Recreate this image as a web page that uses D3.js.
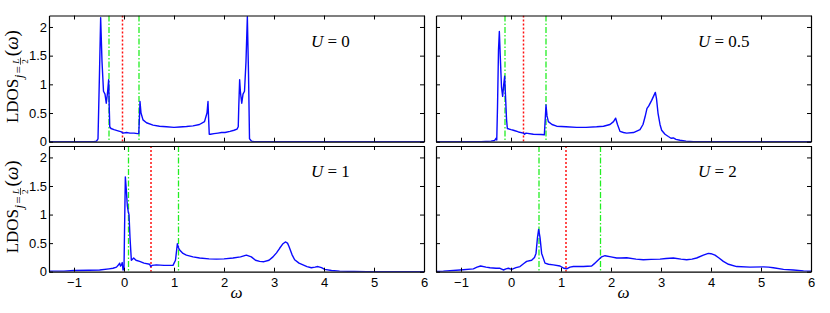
<!DOCTYPE html>
<html>
<head>
<meta charset="utf-8">
<script src="https://cdn.jsdelivr.net/npm/d3@7"></script>
<style>
    body { margin: 0; background: #fff; }
    svg { display: block; }
</style>
</head>
<body>
<div id="chart"></div>
<script>
// [omega, LDOS] pairs, one array per U
const ldosU0 = [
    [-1.5, 0], [-0.6, 0], [-0.55, 0.01], [-0.52, 0.05], [-0.49, 1.2], [-0.467, 2.16], [-0.44, 1.4],
    [-0.41, 0.88], [-0.38, 0.83], [-0.355, 0.67], [-0.33, 0.85], [-0.307, 1.08], [-0.295, 0.6],
    [-0.285, 0.26], [-0.26, 0.23], [-0.2, 0.21], [-0.12, 0.19], [-0.05, 0.17], [-0.02, 0.15],
    [0.05, 0.16], [0.12, 0.15], [0.2, 0.15], [0.27, 0.14], [0.295, 0.14], [0.31, 0.45], [0.32, 0.7],
    [0.34, 0.5], [0.38, 0.38], [0.45, 0.33], [0.58, 0.29], [0.71, 0.27], [0.85, 0.26], [1.0, 0.25],
    [1.11, 0.257], [1.25, 0.265], [1.38, 0.275], [1.51, 0.3], [1.61, 0.35], [1.66, 0.5], [1.68, 0.7],
    [1.69, 0.45], [1.705, 0.13], [1.73, 0.13], [1.8, 0.14], [1.88, 0.15], [1.95, 0.16], [2.02, 0.16],
    [2.12, 0.18], [2.2, 0.2], [2.26, 0.22], [2.285, 0.26], [2.295, 0.6], [2.313, 1.08], [2.33, 0.85],
    [2.355, 0.67], [2.38, 0.83], [2.41, 0.88], [2.44, 1.4], [2.467, 2.18], [2.49, 1.2], [2.51, 0.05],
    [2.55, 0.01], [2.6, 0], [6, 0],
]
const ldosU05 = [
    [-1.5, 0], [-0.6, 0], [-0.4, 0.01], [-0.33, 0.02], [-0.3, 0.06], [-0.285, 0.03], [-0.27, 0.6],
    [-0.25, 1.6], [-0.233, 1.92], [-0.215, 1.5], [-0.19, 0.95], [-0.167, 0.79], [-0.145, 1.0],
    [-0.127, 1.14], [-0.11, 0.8], [-0.09, 0.4], [-0.073, 0.23], [0.0, 0.21], [0.047, 0.2],
    [0.15, 0.17], [0.247, 0.15], [0.27, 0.13], [0.3, 0.15], [0.447, 0.13], [0.6, 0.125],
    [0.667, 0.12], [0.685, 0.4], [0.7, 0.64], [0.72, 0.45], [0.747, 0.35], [0.82, 0.3], [0.913, 0.27],
    [1.1, 0.26], [1.313, 0.25], [1.5, 0.25], [1.713, 0.26], [1.85, 0.27], [1.98, 0.3], [2.05, 0.35],
    [2.093, 0.41], [2.13, 0.3], [2.18, 0.18], [2.25, 0.16], [2.313, 0.15], [2.45, 0.16], [2.58, 0.21],
    [2.64, 0.3], [2.68, 0.43], [2.72, 0.58], [2.753, 0.62], [2.813, 0.72], [2.887, 0.86], [2.91, 0.75],
    [2.94, 0.5], [2.98, 0.3], [3.013, 0.2], [3.08, 0.13], [3.147, 0.09], [3.2, 0.06], [3.247, 0.065],
    [3.3, 0.04], [3.38, 0.025], [3.5, 0.01], [3.65, 0], [6, 0],
]
const ldosU1 = [
    [-1.5, 0.01], [-1.2, 0.01], [-1.0, 0.02], [-0.7, 0.025], [-0.487, 0.03], [-0.3, 0.05],
    [-0.22, 0.06], [-0.15, 0.08], [-0.1, 0.13], [-0.087, 0.15], [-0.07, 0.1], [-0.05, 0.12],
    [-0.035, 0.16], [-0.02, 0.03], [0.0, 0.05], [0.012, 0.8], [0.027, 1.66], [0.045, 1.45],
    [0.067, 1.15], [0.085, 1.05], [0.1, 1.0], [0.12, 0.6], [0.147, 0.2], [0.17, 0.22], [0.193, 0.24],
    [0.24, 0.2], [0.313, 0.18], [0.4, 0.15], [0.513, 0.13], [0.533, 0.09], [0.56, 0.11], [0.647, 0.12],
    [0.8, 0.11], [0.98, 0.11], [1.03, 0.2], [1.067, 0.49], [1.09, 0.42], [1.113, 0.38], [1.18, 0.32],
    [1.247, 0.29], [1.38, 0.26], [1.513, 0.24], [1.7, 0.225], [1.847, 0.22], [2.0, 0.225], [2.18, 0.24],
    [2.33, 0.26], [2.447, 0.29], [2.547, 0.26], [2.63, 0.2], [2.713, 0.18], [2.8, 0.175], [2.9, 0.2],
    [2.98, 0.26], [3.05, 0.33], [3.113, 0.41], [3.18, 0.49], [3.227, 0.52], [3.27, 0.5], [3.3, 0.44],
    [3.36, 0.3], [3.413, 0.21], [3.5, 0.15], [3.58, 0.12], [3.66, 0.09], [3.747, 0.07], [3.82, 0.08],
    [3.88, 0.09], [3.95, 0.07], [4.013, 0.04], [4.15, 0.02], [4.313, 0.01], [4.6, 0.005], [4.85, 0],
    [6, 0],
]
const ldosU2 = [
    [-1.5, 0.005], [-1.353, 0.01], [-1.02, 0.03], [-0.753, 0.05], [-0.68, 0.08], [-0.607, 0.1],
    [-0.5, 0.08], [-0.42, 0.07], [-0.3, 0.06], [-0.22, 0.06], [-0.153, 0.03], [-0.1, 0.05],
    [-0.053, 0.06], [0.013, 0.04], [0.1, 0.07], [0.18, 0.09], [0.25, 0.14], [0.313, 0.18],
    [0.413, 0.2], [0.47, 0.25], [0.5, 0.32], [0.53, 0.6], [0.553, 0.74], [0.58, 0.6], [0.613, 0.32],
    [0.68, 0.15], [0.75, 0.13], [0.847, 0.12], [0.98, 0.1], [1.06, 0.06], [1.113, 0.05], [1.18, 0.08],
    [1.247, 0.09], [1.35, 0.09], [1.447, 0.09], [1.613, 0.1], [1.68, 0.15], [1.713, 0.18],
    [1.813, 0.26], [1.88, 0.28], [2.0, 0.26], [2.113, 0.24], [2.2, 0.24], [2.313, 0.245], [2.5, 0.22],
    [2.647, 0.21], [2.8, 0.215], [2.98, 0.22], [3.1, 0.23], [3.247, 0.24], [3.4, 0.22], [3.513, 0.21],
    [3.62, 0.22], [3.713, 0.24], [3.847, 0.29], [3.947, 0.32], [4.0, 0.315], [4.08, 0.29],
    [4.16, 0.24], [4.247, 0.18], [4.35, 0.13], [4.513, 0.09], [4.78, 0.08], [5.047, 0.085],
    [5.15, 0.08], [5.247, 0.07], [5.45, 0.04], [5.647, 0.03], [5.85, 0.015], [6, 0.01],
]

const uLabels = ['0', '0.5', '1', '2']
const greenLines = [[-0.3, 0.3], [-0.12, 0.7], [0.09, 1.09], [0.56, 1.79]]
const redLines = [-0.03, 0.25, 0.54, 1.1]

const xTicks = [-1, 0, 1, 2, 3, 4, 5, 6]
const yTicks = [0, 0.5, 1, 1.5, 2]
const xDomain = [-1.5, 6]
const yDomain = [0, 2.2]

const WIDTH = 830
const HEIGHT = 313
const COLS = [{ left: 49, right: 424 }, { left: 436, right: 811 }]
const ROWS = [{ top: 15.5, bottom: 141.7 }, { top: 146, bottom: 271.7 }]
const TICK = 4
const SERIF = 'Liberation Serif, Times New Roman, serif'

const svg = d3.select('#chart')
    .append('svg')
    .attr('width', WIDTH)
    .attr('height', HEIGHT)

const series = [ldosU0, ldosU05, ldosU1, ldosU2]

series.forEach((data, i) => {
    const col = COLS[i % 2]
    const row = ROWS[Math.floor(i / 2)]
    const isLeft = i % 2 === 0
    const isBottom = i >= 2

    const x = d3.scaleLinear().domain(xDomain).range([col.left, col.right])
    const y = d3.scaleLinear().domain(yDomain).range([row.bottom, row.top])

    const g = svg.append('g')

    g.append('clipPath')
        .attr('id', `clip${i}`)
        .append('rect')
        .attr('x', col.left)
        .attr('y', row.top)
        .attr('width', col.right - col.left)
        .attr('height', row.bottom - row.top)

    const plot = g.append('g').attr('clip-path', `url(#clip${i})`)

    // green dash-dot and red dotted markers
    greenLines[i].forEach((w) => {
        plot.append('line')
            .attr('x1', x(w)).attr('x2', x(w))
            .attr('y1', row.top).attr('y2', row.bottom)
            .attr('stroke', '#22ee22')
            .attr('stroke-width', 1.3)
            .attr('stroke-dasharray', '6,2,1.5,2')
    })
    plot.append('line')
        .attr('x1', x(redLines[i])).attr('x2', x(redLines[i]))
        .attr('y1', row.top).attr('y2', row.bottom)
        .attr('stroke', '#ff1010')
        .attr('stroke-width', 1.5)
        .attr('stroke-dasharray', '2,2')

    const line = d3.line()
        .x((d) => x(d[0]))
        .y((d) => y(d[1]))

    plot.append('path')
        .datum(data)
        .attr('d', line)
        .attr('fill', 'none')
        .attr('stroke', '#0a0aff')
        .attr('stroke-width', 1.4)
        .attr('stroke-linejoin', 'round')

    // axes with inward ticks on all four sides
    const axes = [
        { axis: d3.axisBottom(x).tickValues(xTicks), at: `translate(0,${row.bottom})`, labels: isBottom, kind: 'bottom' },
        { axis: d3.axisTop(x).tickValues(xTicks), at: `translate(0,${row.top})`, labels: false, kind: 'top' },
        { axis: d3.axisLeft(y).tickValues(yTicks), at: `translate(${col.left},0)`, labels: isLeft, kind: 'left' },
        { axis: d3.axisRight(y).tickValues(yTicks), at: `translate(${col.right},0)`, labels: false, kind: 'right' },
    ]

    axes.forEach((a) => {
        const ax = g.append('g')
            .attr('transform', a.at)
            .call(a.axis.tickSizeInner(-TICK).tickSizeOuter(0).tickPadding(0)
                .tickFormat((d) => (d < 0 ? `\u2212${-d}` : `${d}`)))
        ax.select('.domain').attr('stroke', '#000').attr('stroke-width', 1.2)
        ax.selectAll('.tick line').attr('stroke', '#000')
        const labels = ax.selectAll('.tick text')
            .attr('font-family', 'Liberation Sans, Arial, sans-serif')
            .attr('font-size', 13)
            .attr('fill', '#000')
            .style('display', a.labels ? null : 'none')
        if (a.kind === 'bottom') labels.attr('y', 6).attr('dy', '0.71em')
        if (a.kind === 'left') labels.attr('x', -2)
    })

    const uText = g.append('text')
        .attr('x', col.left + 262)
        .attr('y', row.top + 31)
        .attr('font-family', SERIF)
        .attr('font-size', 17)
    uText.append('tspan').attr('font-style', 'italic').text('U')
    uText.append('tspan').text(` = ${uLabels[i]}`)

    if (isBottom) {
        svg.append('text')
            .attr('x', (col.left + col.right) / 2)
            .attr('y', 298)
            .attr('text-anchor', 'middle')
            .attr('font-family', SERIF)
            .attr('font-style', 'italic')
            .attr('font-size', 17)
            .text('\u03c9')
    }

    if (isLeft) {
        drawYLabel(17.5, (row.top + row.bottom) / 2 - 2)
    }
})

function drawYLabel(cx, cy) {
    const g = svg.append('g').attr('transform', `translate(${cx},${cy}) rotate(-90)`)
    const inner = g.append('g')
    let pos = 0

    const put = (txt, size, dy, italic) => {
        const t = inner.append('text')
            .attr('x', pos)
            .attr('y', dy)
            .attr('font-family', SERIF)
            .attr('font-size', size)
            .attr('font-style', italic ? 'italic' : 'normal')
            .text(txt)
        pos += t.node().getComputedTextLength()
    }

    put('LDOS', 17, 0, false)
    pos += 0.5
    put('j', 13, 5, true)
    pos += 1
    put('=', 13, 5, false)
    pos += 1.5
    const fracX = pos
    const num = inner.append('text')
        .attr('x', fracX + 1).attr('y', 1)
        .attr('font-family', SERIF).attr('font-size', 9).attr('font-style', 'italic')
        .text('L')
    const den = inner.append('text')
        .attr('x', fracX + 1).attr('y', 10)
        .attr('font-family', SERIF).attr('font-size', 9)
        .text('2')
    const fw = Math.max(num.node().getComputedTextLength(), den.node().getComputedTextLength()) + 2
    inner.append('line')
        .attr('x1', fracX).attr('x2', fracX + fw)
        .attr('y1', 3).attr('y2', 3)
        .attr('stroke', '#000').attr('stroke-width', 0.7)
    pos += fw + 1.5
    put('(', 19, 0, false)
    put('\u03c9', 19, 0, true)
    put(')', 19, 0, false)

    inner.attr('transform', `translate(${-pos / 2},0)`)
}
</script>
</body>
</html>
